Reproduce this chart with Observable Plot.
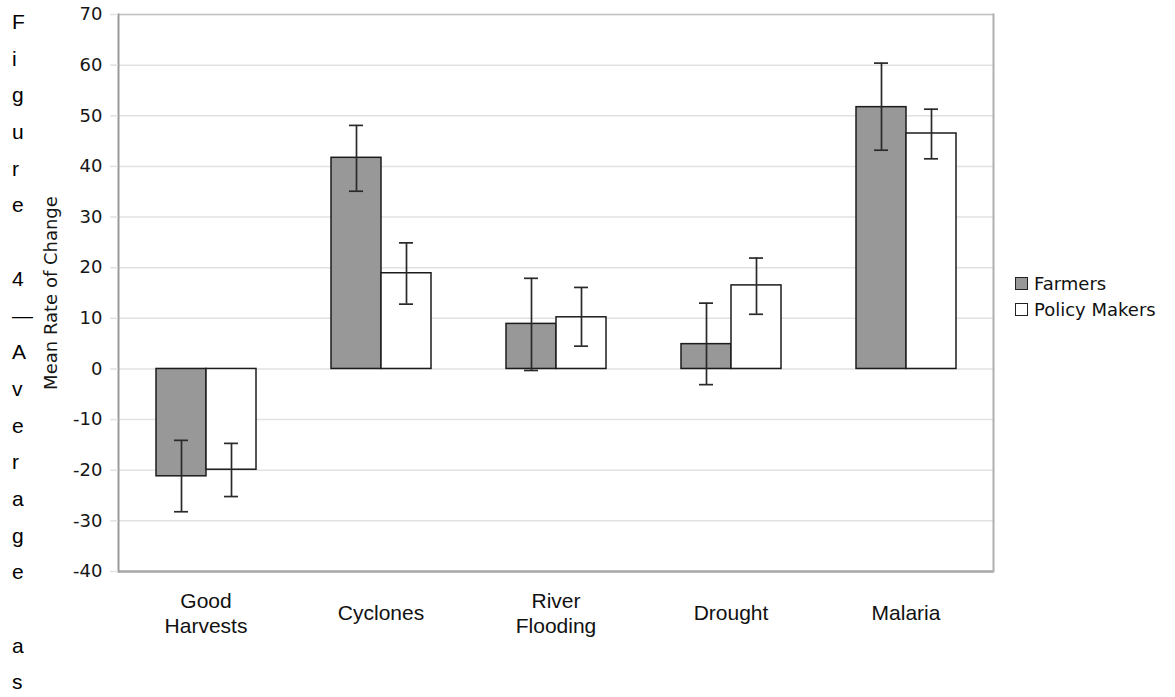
<!DOCTYPE html>
<html>
<head>
<meta charset="utf-8">
<script src="https://cdn.jsdelivr.net/npm/d3@7"></script>
<script src="https://cdn.jsdelivr.net/npm/@observablehq/plot@0.6"></script>
<style>
  html, body { margin: 0; padding: 0; background: #fff; overflow: hidden; }
  #wrap { position: relative; width: 1175px; height: 697px; }
  #chart { position: absolute; left: 0; top: 0; }
  #side {
    position: absolute; left: 12px; top: 4px;
    font-family: "Liberation Sans", Arial, sans-serif; font-size: 21px;
    line-height: 36.7px; color: #000;
  }
  #side div { height: 36.7px; }
  #legend {
    position: absolute; left: 1015px; top: 270px;
    font-family: "DejaVu Sans", Verdana, sans-serif; font-size: 18px; color: #111;
  }
  #legend .row { display: flex; align-items: center; height: 26px; }
  #legend .sw { width: 11px; height: 11px; border: 1.5px solid #222; margin-right: 6px; }
</style>
</head>
<body>
<div id="wrap">
  <div id="chart"></div>
  <div id="side"></div>
  <div id="legend"></div>
</div>
<script>
const sideText = "Figure 4—Average as";
const categories = ["Good Harvests", "Cyclones", "River Flooding", "Drought", "Malaria"];
const categoryLabels = ["Good\nHarvests", "Cyclones", "River\nFlooding", "Drought", "Malaria"];
const series = ["Farmers", "Policy Makers"];
const seriesColors = ["#989898", "#ffffff"];
const farmersMean = [-21.2, 41.7, 8.9, 4.9, 51.7];
const farmersLow = [-28.2, 35.1, -0.3, -3.1, 43.2];
const farmersHigh = [-14.1, 48.1, 17.9, 13.0, 60.4];
const policyMean = [-19.9, 18.9, 10.2, 16.5, 46.5];
const policyLow = [-25.2, 12.8, 4.5, 10.8, 41.5];
const policyHigh = [-14.7, 24.9, 16.1, 21.9, 51.3];
const yTicks = [-40, -30, -20, -10, 0, 10, 20, 30, 40, 50, 60, 70];
const yLabel = "Mean Rate of Change";

const rows = [];
categories.forEach((c, i) => {
  rows.push({cat: c, series: series[0], value: farmersMean[i], low: farmersLow[i], high: farmersHigh[i]});
  rows.push({cat: c, series: series[1], value: policyMean[i], low: policyLow[i], high: policyHigh[i]});
});

const side = document.getElementById("side");
sideText.split("").forEach(ch => {
  const d = document.createElement("div");
  d.textContent = ch === " " ? "\u00a0" : ch;
  side.appendChild(d);
});

const chart = Plot.plot({
  width: 1000,
  height: 650,
  marginLeft: 117,
  marginRight: 7,
  marginTop: 14,
  marginBottom: 79,
  style: {fontFamily: "DejaVu Sans, Verdana, sans-serif", fontSize: "18px", color: "#111", background: "#fff"},
  fx: {domain: categories, padding: 0, label: null},
  x: {domain: series, paddingInner: 0, paddingOuter: 0.726, axis: null},
  y: {domain: [-40, 70], label: null},
  color: {domain: series, range: seriesColors},
  marks: [
    Plot.gridY(yTicks, {stroke: "#e2e2e2", strokeOpacity: 1, strokeWidth: 1.5}),
    Plot.ruleY([70], {stroke: "#c4c4c4", strokeWidth: 1.3}),
    Plot.ruleY([-40], {stroke: "#a8a8a8", strokeWidth: 2.5}),
    Plot.frame({anchor: "left", facetAnchor: "left", stroke: "#9a9a9a", strokeWidth: 2}),
    Plot.frame({anchor: "right", facetAnchor: "right", stroke: "#b0b0b0", strokeWidth: 2}),
    Plot.barY(rows, {fx: "cat", x: "series", y: "value", fill: "series", stroke: "#1c1c1c", strokeWidth: 1.5}),
    Plot.ruleX(rows, {fx: "cat", x: "series", y1: "low", y2: "high", stroke: "#2a2a2a", strokeWidth: 1.7}),
    Plot.tickY(rows, {fx: "cat", x: "series", y: "low", insetLeft: 18, insetRight: 18, stroke: "#2a2a2a", strokeWidth: 1.7}),
    Plot.tickY(rows, {fx: "cat", x: "series", y: "high", insetLeft: 18, insetRight: 18, stroke: "#2a2a2a", strokeWidth: 1.7}),
    Plot.axisY(yTicks, {
      anchor: "left", tickSize: 8, tickPadding: 8, stroke: "#e2e2e2", strokeWidth: 1.5,
      fill: "#161616", fontSize: 18, tickFormat: d => String(d),
      label: yLabel, labelAnchor: "center", labelOffset: 74, labelArrow: "none"
    }),
    Plot.axisFx({
      anchor: "bottom", tickSize: 0, tickPadding: 41, lineAnchor: "middle", lineHeight: 1.17,
      fontFamily: "Liberation Sans, Arial, sans-serif", fontSize: 21, fill: "#111", label: null,
      tickFormat: d => categoryLabels[categories.indexOf(d)]
    })
  ]
});
document.getElementById("chart").appendChild(chart);

const legend = document.getElementById("legend");
series.forEach((s, i) => {
  const row = document.createElement("div");
  row.className = "row";
  const sw = document.createElement("div");
  sw.className = "sw";
  sw.style.background = seriesColors[i];
  const label = document.createElement("span");
  label.textContent = s;
  row.appendChild(sw);
  row.appendChild(label);
  legend.appendChild(row);
});
</script>
</body>
</html>
